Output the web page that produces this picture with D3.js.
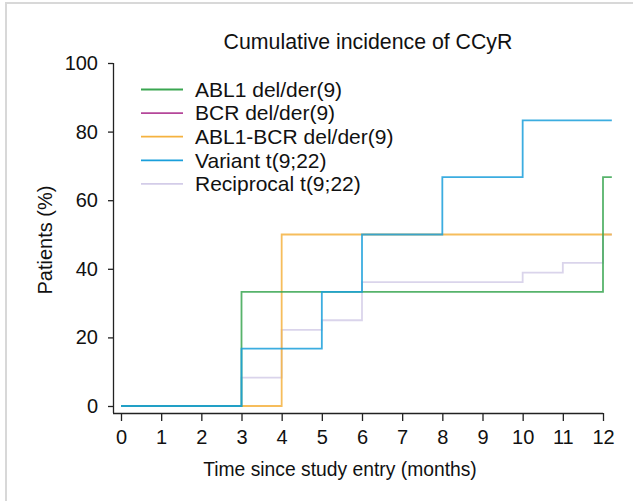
<!DOCTYPE html>
<html>
<head>
<meta charset="utf-8">
<script src="https://cdn.jsdelivr.net/npm/d3@7"></script>
<style>
  body { margin: 0; background: #fff; }
  svg text { font-family: "Liberation Sans", Arial, sans-serif; fill: #111; }
</style>
</head>
<body>
<div id="graph"></div>
<script>
// step data: [time (months), cumulative incidence %]
var names = ['ABL1 del/der(9)', 'BCR del/der(9)', 'ABL1-BCR del/der(9)', 'Variant t(9;22)', 'Reciprocal t(9;22)']
var colors = ['#3aa651', '#b5479a', '#f5b23f', '#1a9fdb', '#d3cce8']

var abl1 = [[0, 0], [3, 33.3], [12, 66.7], [12.22, 66.7]]
var bcr = [[0, 0], [3, 0]]
var ablBcr = [[0, 0], [4, 50], [12.22, 50]]
var variant = [[0, 0], [3, 16.7], [5, 33.3], [6, 50], [8, 66.7], [10, 83.3], [12.22, 83.3]]
var reciprocal = [[0, 0], [3, 8.3], [4, 22.2], [5, 25], [6, 36.1], [10, 38.9], [11, 41.7], [12, 50], [12.22, 50]]

var xTicks = d3.range(0, 13)
var yTicks = [0, 20, 40, 60, 80, 100]

var series = [abl1, bcr, ablBcr, variant, reciprocal]

var width = 633, height = 501

var svg = d3.select('#graph').append('svg')
  .attr('width', width)
  .attr('height', height)

// light frame
svg.append('path')
  .attr('d', 'M6,501V3H633')
  .attr('fill', 'none')
  .attr('stroke', '#d8d8d8')
  .attr('stroke-width', 2)

var x = d3.scaleLinear().domain([0, 12]).range([121, 603])
var y = d3.scaleLinear().domain([0, 100]).range([406, 63])

// axes
var xAxis = svg.append('g')
  .attr('transform', 'translate(0,413)')
  .call(d3.axisBottom(x).tickValues(xTicks).tickSize(8).tickSizeOuter(0).tickPadding(9))
xAxis.select('.domain').attr('d', 'M113,0.5H' + x(12))

var yAxis = svg.append('g')
  .attr('transform', 'translate(113,0)')
  .call(d3.axisLeft(y).tickValues(yTicks).tickSize(5).tickSizeOuter(0).tickPadding(10))
yAxis.select('.domain').attr('d', 'M0.5,' + y(100) + 'V413')

svg.selectAll('.tick text')
  .style('font-size', '20px')
  .style('font-family', '"Liberation Sans", Arial, sans-serif')
  .attr('fill', '#111')
svg.selectAll('.domain, .tick line').attr('stroke', '#222').attr('stroke-width', 1.3)

// step lines
var line = d3.line()
  .x(d => x(d[0]))
  .y(d => y(d[1]))
  .curve(d3.curveStepAfter)

var order = [1, 4, 2, 0, 3]
svg.selectAll('path.km')
  .data(order)
  .join('path')
  .attr('class', 'km')
  .attr('d', i => line(series[i]))
  .attr('fill', 'none')
  .attr('stroke', i => colors[i])
  .attr('stroke-width', 1.8)
  .attr('stroke-opacity', 0.85)

// legend
var leg = svg.append('g')
var rows = leg.selectAll('g')
  .data(names)
  .join('g')
  .attr('transform', (d, i) => 'translate(141,' + (89.5 + i * 23.6) + ')')
rows.append('line')
  .attr('x1', 0).attr('x2', 42)
  .attr('stroke', (d, i) => colors[i])
  .attr('stroke-width', 1.8)
rows.append('text')
  .attr('x', 54)
  .attr('dy', '0.35em')
  .style('font-size', '21px')
  .text(d => d)

// titles
svg.append('text')
  .attr('x', 368).attr('y', 49)
  .attr('text-anchor', 'middle')
  .style('font-size', '21.3px')
  .text('Cumulative incidence of CCyR')

svg.append('text')
  .attr('x', 340).attr('y', 476)
  .attr('text-anchor', 'middle')
  .style('font-size', '19.3px')
  .text('Time since study entry (months)')

svg.append('text')
  .attr('transform', 'translate(52,240) rotate(-90)')
  .attr('text-anchor', 'middle')
  .style('font-size', '20px')
  .text('Patients (%)')
</script>
</body>
</html>
